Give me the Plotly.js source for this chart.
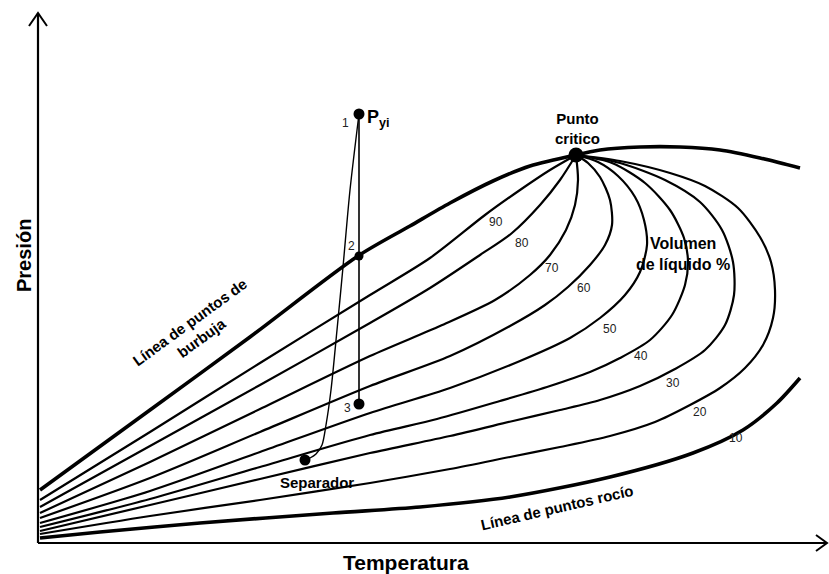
<!DOCTYPE html>
<html>
<head>
<meta charset="utf-8">
<script src="https://cdn.plot.ly/plotly-3.0.1.min.js"></script>
<style>html,body{margin:0;padding:0;background:#fff}#chart{width:829px;height:574px}</style>
</head>
<body>
<div id="chart"></div>
<script>
// Temperature (T) and pressure (P) in arbitrary schematic units
const bubbleT = [2,112,212,320,372,412,455,492,538];
const bubbleP = [53,133,206,287,317,340,362,377,388];

const q90T = [2,112,222,332,392,447,482,512,538];
const q90P = [43,111,180,248,285,328,353,373,388];
const q80T = [2,112,222,332,392,442,474,502,522,538];
const q80P = [36,97,158,220,255,288,310,338,363,388];
const q70T = [2,112,222,332,402,457,492,512,528,537,540,538];
const q70P = [30,81,134,187,217,243,268,288,313,338,363,388];
const q60T = [2,112,222,332,412,472,507,530,552,567,574,572,562,550,538];
const q60P = [25,65,111,157,187,217,238,256,278,298,318,343,366,380,388];
const q50T = [2,112,222,332,412,482,532,562,587,602,609,606,597,580,560,538];
const q50P = [20,52,91,130,155,182,205,225,248,271,298,323,346,367,381,388];
const q40T = [2,112,222,332,399,462,512,552,582,612,634,647,650,646,632,607,574,538];
const q40P = [16,44,76,108,124,142,157,171,185,203,228,258,281,305,333,360,380,388];
const q30T = [2,112,222,332,412,475,522,562,602,637,667,687,696,695,684,662,627,582,538];
const q30P = [12,38,64,90,107,122,133,143,157,174,193,218,248,281,313,341,363,380,388];
const q20T = [2,112,222,332,412,472,522,572,617,652,682,707,725,735,737,733,722,700,667,632,582,538];
const q20P = [9,27,43,60,74,86,96,107,121,138,155,175,198,225,253,281,306,335,357,370,382,388];

const dewLowT = [2,62,162,295,382,472,572,655,705,739,762];
const dewLowP = [5,11,20,30,36,46,66,90,113,140,165];
const dewTopT = [538,562,602,642,682,722,762];
const dewTopP = [388,393,396,396,393,385,375];

const critT = [538], critP = [388];
const pathT = [321,312,305,299,293,288,284,278,272,267];
const pathP = [429,353,276,213,153,118,98,89,85,83];
const isoT = [321,321];
const isoP = [429,139];
const ptsT = [321,321,321,267];
const ptsP = [429,287,139,83];

const qLabels = ['90','80','70','60','50','40','30','20','10'];
const qLabelT = [458,484,514,546,572,603,635,662,698];
const qLabelP = [321,300,275,255,214,187,160,131,105];

const FONT = '"Liberation Sans", Arial, sans-serif';
const traces = [];
function line(x, y, w, shape) {
  traces.push({x:x, y:y, mode:'lines', type:'scatter', hoverinfo:'skip',
    line:{color:'#000', width:w, shape:shape||'spline', smoothing:0.8}});
}
// axes with arrows
line([0,0],[0,530],2.2,'linear');
line([0,789],[0,0],2.2,'linear');
line([-9,0,9],[517,530,517],2,'linear');
line([778,789,778],[8,0,-8],2,'linear');

line(bubbleT,bubbleP,3.6);
[[q90T,q90P],[q80T,q80P],[q70T,q70P],[q60T,q60P],[q50T,q50P],[q40T,q40P],[q30T,q30P],[q20T,q20P]]
  .forEach(c => line(c[0],c[1],2.2));
line(dewLowT,dewLowP,3.6);
line(dewTopT,dewTopP,3.6);
line(isoT,isoP,1.6,'linear');
line(pathT,pathP,1.4);

traces.push({x:ptsT,y:ptsP,mode:'markers',type:'scatter',hoverinfo:'skip',
  marker:{color:'#000',opacity:1,size:[11,9,11,11],line:{width:0,color:'#000'}}});
traces.push({x:critT,y:critP,mode:'markers',type:'scatter',hoverinfo:'skip',
  marker:{color:'#000',opacity:1,size:15,line:{width:0,color:'#000'}}});

const ann = [];
function txt(t, x, y, size, bold, extra) {
  ann.push(Object.assign({text: bold ? '<b>'+t+'</b>' : t, x:x, y:y, xref:'x', yref:'y',
    showarrow:false, font:{family:FONT, size:size, color: bold ? '#000' : '#222'}}, extra||{}));
}
qLabels.forEach((l,i) => txt(l, qLabelT[i], qLabelP[i], 12, false));
txt('P<sub>yi</sub>', 327, 425, 18, true, {xanchor:'left'});
txt('1', 307, 420, 12, false);
txt('2', 313, 297, 12, false);
txt('3', 309, 135, 12, false);
txt('Separador', 279, 61, 15, true);
txt('Punto<br>critico', 539, 415, 15, true);
txt('Volumen<br>de líquido %', 645, 289, 16, true);
txt('Línea de puntos de<br>burbuja', 157, 213, 15, true, {textangle:-36});
txt('Línea de puntos rocío', 519, 36, 15, true, {textangle:-13});
txt('Presión', -14, 287, 20, true, {textangle:-90});
txt('Temperatura', 368, -19, 21, true);

const layout = {
  width:829, height:574, margin:{l:0,r:0,t:0,b:0},
  paper_bgcolor:'#fff', plot_bgcolor:'#fff', showlegend:false,
  xaxis:{range:[-38,791], visible:false, fixedrange:true},
  yaxis:{range:[-31,543], visible:false, fixedrange:true},
  annotations: ann
};
Plotly.newPlot('chart', traces, layout, {staticPlot:true, displayModeBar:false});
</script>
</body>
</html>
